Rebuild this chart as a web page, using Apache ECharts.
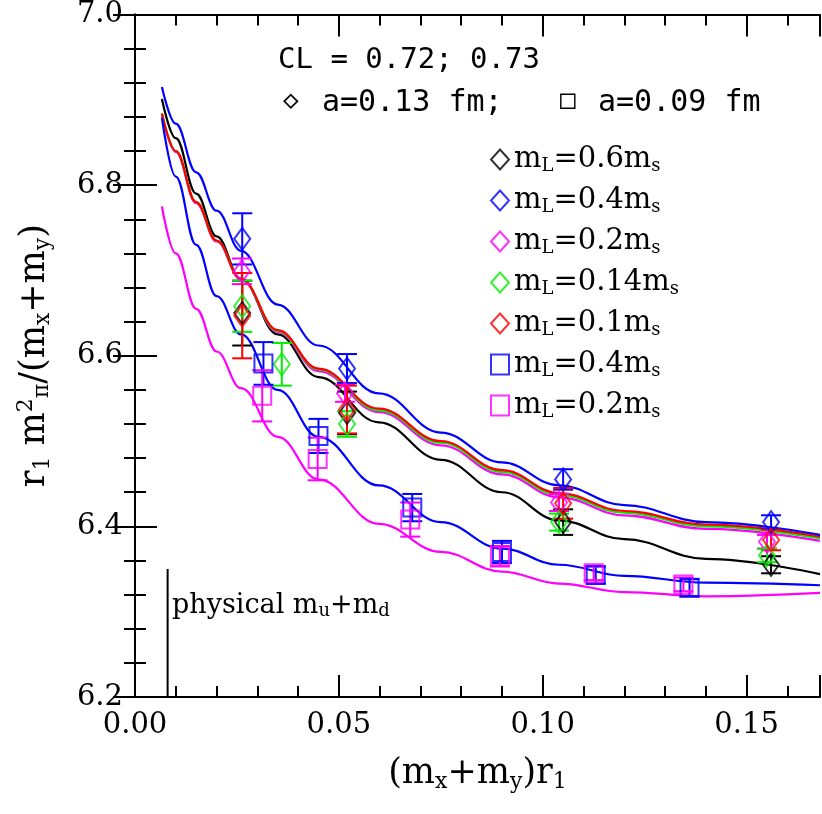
<!DOCTYPE html>
<html><head><meta charset="utf-8">
<script src="https://cdn.jsdelivr.net/npm/echarts@6/dist/echarts.min.js"></script>
<style>html,body{margin:0;padding:0;background:#fff}#c{width:822px;height:814px}</style>
</head><body><div id="c"></div>
<script>
// data: [x, y, error]
const blackD = [[0.0263,6.650,0.038],[0.052,6.533,0.025],[0.105,6.405,0.015],[0.156,6.355,0.010]];
const blueD  = [[0.0263,6.737,0.030],[0.052,6.585,0.017],[0.105,6.455,0.012],[0.156,6.405,0.008]];
const pinkD  = [[0.0262,6.699,0.015],[0.0515,6.556,0.010],[0.104,6.428,0.010],[0.155,6.382,0.008]];
const greenD = [[0.0263,6.658,0.030],[0.036,6.590,0.025],[0.052,6.520,0.015],[0.104,6.405,0.010],[0.155,6.366,0.008]];
const redD   = [[0.0263,6.647,0.050],[0.052,6.537,0.028],[0.105,6.427,0.018],[0.156,6.384,0.012]];
const blueS  = [[0.0315,6.591,0.025],[0.045,6.506,0.020],[0.068,6.422,0.016],[0.090,6.370,0.013],[0.113,6.343,0.010],[0.136,6.328,0.010]];
const pinkS  = [[0.0312,6.553,0.030],[0.0448,6.479,0.025],[0.0675,6.408,0.020],[0.0895,6.365,0.012],[0.1125,6.345,0.008],[0.1345,6.332,0.008]];
// fit curves
const fitX     = [0.0066,0.010,0.015,0.020,0.026,0.035,0.045,0.0598,0.075,0.090,0.104,0.120,0.140,0.168];
const blackFit = [6.901,6.855,6.790,6.740,6.690,6.625,6.575,6.522,6.478,6.440,6.407,6.385,6.362,6.344];
const blueFit  = [6.915,6.872,6.815,6.770,6.723,6.660,6.612,6.556,6.510,6.475,6.448,6.425,6.405,6.390];
const redFit   = [6.884,6.840,6.780,6.735,6.690,6.630,6.585,6.538,6.500,6.466,6.439,6.418,6.402,6.388];
const greenFit = [6.884,6.840,6.780,6.735,6.690,6.629,6.584,6.536,6.498,6.464,6.437,6.416,6.400,6.386];
const pinkFit  = [6.883,6.839,6.779,6.734,6.689,6.628,6.582,6.534,6.495,6.461,6.434,6.413,6.397,6.383];
const blueSFit = [6.879,6.810,6.730,6.670,6.625,6.560,6.505,6.448,6.405,6.374,6.355,6.342,6.334,6.331];
const pinkSFit = [6.775,6.720,6.655,6.605,6.562,6.505,6.455,6.403,6.370,6.347,6.333,6.323,6.318,6.322];
const physX = 0.008;
const xTicks = [0, 0.05, 0.10, 0.15];

const BLK='#000', BLU='#0000ff', PNK='#ff00ff', GRN='#00ee00', RED='#ff0000';
function errBars(data, color){
  return {type:'custom', silent:true, z:3, data:data.map(d=>[d[0],d[1]-d[2],d[1]+d[2]]),
    renderItem:(p,api)=>{
      const lo=api.coord([api.value(0),api.value(1)]), hi=api.coord([api.value(0),api.value(2)]);
      const w=10, st={stroke:color,lineWidth:2};
      return {type:'group',children:[
        {type:'line',shape:{x1:lo[0],y1:lo[1],x2:hi[0],y2:hi[1]},style:st},
        {type:'line',shape:{x1:lo[0]-w,y1:lo[1],x2:lo[0]+w,y2:lo[1]},style:st},
        {type:'line',shape:{x1:hi[0]-w,y1:hi[1],x2:hi[0]+w,y2:hi[1]},style:st}]};
    }};
}
function pts(name,data,color,sym){
  return {name:name,type:'scatter',z:4,data:data.map(d=>[d[0],d[1]]),symbol:sym,
    symbolSize:sym==='diamond'?[16,22]:18,
    itemStyle:{color:'rgba(255,255,255,0)',borderColor:color,borderWidth:2}};
}
function fit(ys,color){
  return {type:'line',data:fitX.map((x,i)=>[x,ys[i]]),smooth:0.4,smoothMonotone:'x',showSymbol:false,silent:true,z:2,lineStyle:{color:color,width:2.2}};
}
const names=['a','b','c','d','e','f','g'];
const legText={a:'0.6',b:'0.4',c:'0.2',d:'0.14',e:'0.1',f:'0.4',g:'0.2'};
const SERIF='DejaVu Serif';
const MONO='"DejaVu Sans Mono"';
const series=[
  fit(blackFit,BLK),fit(pinkFit,PNK),fit(greenFit,GRN),fit(redFit,RED),fit(blueFit,BLU),fit(blueSFit,BLU),fit(pinkSFit,PNK),
  errBars(blackD,BLK),errBars(blueD,BLU),errBars(pinkD,PNK),errBars(greenD,GRN),errBars(redD,RED),errBars(blueS,BLU),errBars(pinkS,PNK),
  pts('a',blackD,BLK,'diamond'),pts('b',blueD,BLU,'diamond'),pts('c',pinkD,PNK,'diamond'),pts('d',greenD,GRN,'diamond'),
  pts('e',redD,RED,'diamond'),pts('f',blueS,BLU,'rect'),pts('g',pinkS,PNK,'rect'),
  {type:'line',data:[[physX,6.2],[physX,6.35]],showSymbol:false,silent:true,lineStyle:{color:BLK,width:2}}
];
const axisCommon={axisLine:{lineStyle:{color:BLK,width:2}},splitLine:{show:false}};
const chart=echarts.init(document.getElementById('c'));
chart.setOption({
  animation:false,
  grid:{left:135,right:2,top:14,bottom:117},
  xAxis:[
    Object.assign({type:'value',min:0,max:0.168,interval:0.05,
      axisTick:{inside:true,length:22,lineStyle:{color:BLK,width:2}},
      minorTick:{show:true,splitNumber:5,length:11,lineStyle:{color:BLK,width:2}},
      axisLabel:{fontFamily:SERIF,fontSize:29,color:BLK,margin:14,showMaxLabel:false,
        formatter:v=>xTicks.some(t=>Math.abs(t-v)<1e-9)?v.toFixed(2):''},
      name:'{t|(m}{s|x}{t|+m}{s|y}{t|)r}{s|1}',nameLocation:'middle',nameGap:58,
      nameTextStyle:{rich:{t:{fontFamily:SERIF,fontSize:35,color:BLK},s:{fontFamily:SERIF,fontSize:22,color:BLK,padding:[16,0,0,0]}}}},axisCommon),
    Object.assign({type:'value',position:'top',min:0,max:0.168,interval:0.05,
      axisTick:{inside:true,length:22,lineStyle:{color:BLK,width:2}},
      minorTick:{show:true,splitNumber:5,length:11,lineStyle:{color:BLK,width:2}},axisLabel:{show:false}},axisCommon)
  ],
  yAxis:[
    Object.assign({type:'value',min:6.2,max:7.0,interval:0.2,
      axisTick:{inside:true,length:22,lineStyle:{color:BLK,width:2}},
      minorTick:{show:true,splitNumber:5,length:11,lineStyle:{color:BLK,width:2}},
      axisLabel:{fontFamily:SERIF,fontSize:29,color:BLK,margin:12,formatter:v=>v.toFixed(1)},
      name:'{t|r}{s|1}{t| m}{p|2}{q|π}{t|/(m}{s|x}{t|+m}{s|y}{t|)}',nameLocation:'middle',nameGap:80,
      nameTextStyle:{rich:{t:{fontFamily:SERIF,fontSize:35,color:BLK},s:{fontFamily:SERIF,fontSize:22,color:BLK,padding:[16,0,0,0]},
        p:{fontFamily:SERIF,fontSize:22,color:BLK,padding:[0,0,18,0]},q:{fontFamily:SERIF,fontSize:22,color:BLK,padding:[14,0,0,0]}}}},axisCommon),
    Object.assign({type:'value',position:'right',min:6.2,max:7.0,interval:0.2,
      axisTick:{inside:true,length:22,lineStyle:{color:BLK,width:2}},
      minorTick:{show:true,splitNumber:5,length:11,lineStyle:{color:BLK,width:2}},axisLabel:{show:false}},axisCommon)
  ],
  legend:{data:names,left:485,top:140,orient:'vertical',itemGap:11,itemWidth:18,itemHeight:20,selectedMode:false,
    formatter:n=>'{t|m}{s|L}{t|='+legText[n]+'m}{s|s}',
    textStyle:{rich:{t:{fontFamily:SERIF,fontSize:29,color:BLK},s:{fontFamily:SERIF,fontSize:18,color:BLK,padding:[13,0,0,0]}}}},
  graphic:[
    {type:'text',left:278,top:46,style:{text:'CL = 0.72; 0.73',font:'29px '+MONO,fill:BLK}},
    {type:'text',left:283,top:88,style:{text:'◇',font:'26px '+MONO,fill:BLK}},
    {type:'text',left:322,top:88,style:{text:'a=0.13 fm;',font:'30px '+MONO,fill:BLK}},
    {type:'text',left:560,top:88,style:{text:'□',font:'26px '+MONO,fill:BLK}},
    {type:'text',left:598,top:88,style:{text:'a=0.09 fm',font:'30px '+MONO,fill:BLK}},
    {type:'text',left:172,top:592,style:{rich:{t:{font:'27px "DejaVu Serif"',fill:BLK},s:{font:'18px "DejaVu Serif"',fill:BLK,padding:[12,0,0,0]}},
      text:'{t|physical m}{s|u}{t|+m}{s|d}'}}
  ],
  series:series
});
</script></body></html>
